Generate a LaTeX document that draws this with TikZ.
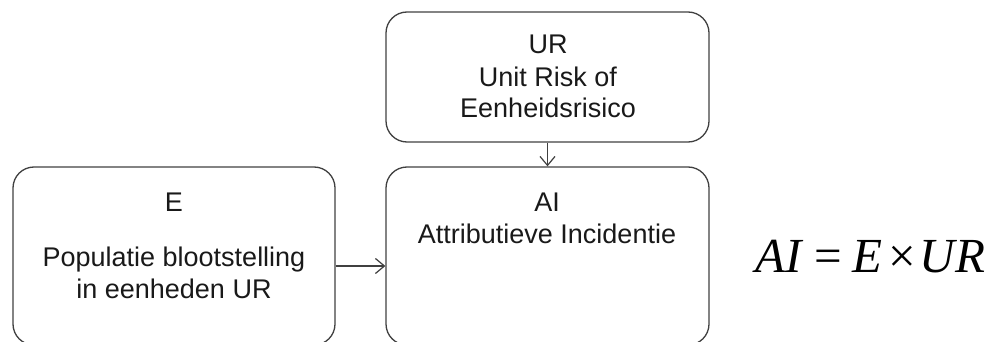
\documentclass[tikz,border=0pt]{standalone}
\usepackage{fontspec}
\setmainfont{Liberation Sans}
\newfontfamily\eqfont{Liberation Serif}
\usetikzlibrary{arrows.meta,positioning}
\begin{document}
\begin{tikzpicture}[x=1pt,y=-1pt,
  box/.style={draw=black!75,line width=1.3pt,rounded corners=21pt,inner sep=0pt},
  lbl/.style={font=\fontsize{27}{32}\selectfont,align=center,anchor=base,inner sep=0pt,text=black!90},
  conn/.style={draw=black!75,line width=1.2pt,-{Straight Barb[length=9pt,width=15pt,line width=1.2pt]}}]
\useasboundingbox (0,0) rectangle (993,342);
% boxes
\node[box,minimum width=323pt,minimum height=130pt] (ur) at (547.5,77) {};
\node[box,minimum width=322pt,minimum height=178pt] (e) at (174,256) {};
\node[box,minimum width=323pt,minimum height=178pt] (ai) at (547.5,256) {};
% labels (base = last line)
\node[lbl] (urtxt) at (548,118) {UR\\Unit Risk of\\Eenheidsrisico};
\node[lbl] (etxt) at (174,298) {E\\[23pt]Populatie blootstelling\\in eenheden UR};
\node[lbl] (aitxt) at (547,243) {AI\\Attributieve Incidentie};
% connectors
\draw[conn] (ur) -- (ai);
\draw[conn] ([yshift=-10pt]e.east) -- ([yshift=-10pt]ai.west);
% formula
\node[anchor=base west,inner sep=0pt,font=\eqfont\fontsize{49}{49}\selectfont] (eq) at (755,272)
  {\itshape AI\hspace{13pt}\upshape=\hspace{10pt}\itshape E\hspace{6pt}\upshape×\hspace{4pt}\itshape UR};
\end{tikzpicture}
\end{document}
